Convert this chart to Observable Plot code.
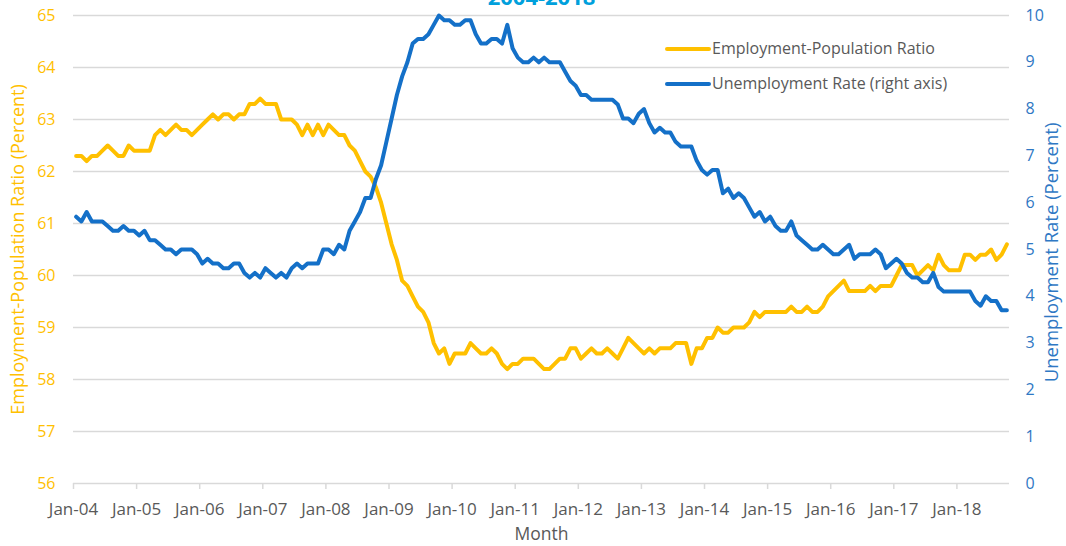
<!DOCTYPE html>
<html>
<head>
<meta charset="utf-8">
<script src="https://cdn.jsdelivr.net/npm/d3@7"></script>
<script src="https://cdn.jsdelivr.net/npm/@observablehq/plot@0.6"></script>
<style>
  html, body { margin: 0; padding: 0; background: #fff; }
  #wrap { position: relative; width: 1066px; height: 546px; overflow: hidden; font-family: "Open Sans", sans-serif; }
  #wrap svg { position: absolute; left: 0; top: 0; }
  .leg-line { position: absolute; height: 4px; border-radius: 2px; }
  .leg-text { position: absolute; font-size: 16px; line-height: 20px; color: #595959; white-space: nowrap; }
</style>
</head>
<body>
<div id="wrap"></div>
<script>
// ---- Data (monthly, Jan 2004 – Oct 2018) ----
const epop = [
  62.3,62.3,62.2,62.3,62.3,62.4,62.5,62.4,62.3,62.3,62.5,62.4, // 2004
  62.4,62.4,62.4,62.7,62.8,62.7,62.8,62.9,62.8,62.8,62.7,62.8, // 2005
  62.9,63.0,63.1,63.0,63.1,63.1,63.0,63.1,63.1,63.3,63.3,63.4, // 2006
  63.3,63.3,63.3,63.0,63.0,63.0,62.9,62.7,62.9,62.7,62.9,62.7, // 2007
  62.9,62.8,62.7,62.7,62.5,62.4,62.2,62.0,61.9,61.7,61.4,61.0, // 2008
  60.6,60.3,59.9,59.8,59.6,59.4,59.3,59.1,58.7,58.5,58.6,58.3, // 2009
  58.5,58.5,58.5,58.7,58.6,58.5,58.5,58.6,58.5,58.3,58.2,58.3, // 2010
  58.3,58.4,58.4,58.4,58.3,58.2,58.2,58.3,58.4,58.4,58.6,58.6, // 2011
  58.4,58.5,58.6,58.5,58.5,58.6,58.5,58.4,58.6,58.8,58.7,58.6, // 2012
  58.5,58.6,58.5,58.6,58.6,58.6,58.7,58.7,58.7,58.3,58.6,58.6, // 2013
  58.8,58.8,59.0,58.9,58.9,59.0,59.0,59.0,59.1,59.3,59.2,59.3, // 2014
  59.3,59.3,59.3,59.3,59.4,59.3,59.3,59.4,59.3,59.3,59.4,59.6, // 2015
  59.7,59.8,59.9,59.7,59.7,59.7,59.7,59.8,59.7,59.8,59.8,59.8, // 2016
  60.0,60.2,60.2,60.2,60.0,60.1,60.2,60.1,60.4,60.2,60.1,60.1, // 2017
  60.1,60.4,60.4,60.3,60.4,60.4,60.5,60.3,60.4,60.6            // 2018
];
const unrate = [
  5.7,5.6,5.8,5.6,5.6,5.6,5.5,5.4,5.4,5.5,5.4,5.4,  // 2004
  5.3,5.4,5.2,5.2,5.1,5.0,5.0,4.9,5.0,5.0,5.0,4.9,  // 2005
  4.7,4.8,4.7,4.7,4.6,4.6,4.7,4.7,4.5,4.4,4.5,4.4,  // 2006
  4.6,4.5,4.4,4.5,4.4,4.6,4.7,4.6,4.7,4.7,4.7,5.0,  // 2007
  5.0,4.9,5.1,5.0,5.4,5.6,5.8,6.1,6.1,6.5,6.8,7.3,  // 2008
  7.8,8.3,8.7,9.0,9.4,9.5,9.5,9.6,9.8,10.0,9.9,9.9, // 2009
  9.8,9.8,9.9,9.9,9.6,9.4,9.4,9.5,9.5,9.4,9.8,9.3,  // 2010
  9.1,9.0,9.0,9.1,9.0,9.1,9.0,9.0,9.0,8.8,8.6,8.5,  // 2011
  8.3,8.3,8.2,8.2,8.2,8.2,8.2,8.1,7.8,7.8,7.7,7.9,  // 2012
  8.0,7.7,7.5,7.6,7.5,7.5,7.3,7.2,7.2,7.2,6.9,6.7,  // 2013
  6.6,6.7,6.7,6.2,6.3,6.1,6.2,6.1,5.9,5.7,5.8,5.6,  // 2014
  5.7,5.5,5.4,5.4,5.6,5.3,5.2,5.1,5.0,5.0,5.1,5.0,  // 2015
  4.9,4.9,5.0,5.1,4.8,4.9,4.9,4.9,5.0,4.9,4.6,4.7,  // 2016
  4.8,4.7,4.5,4.4,4.4,4.3,4.3,4.5,4.2,4.1,4.1,4.1,  // 2017
  4.1,4.1,4.1,3.9,3.8,4.0,3.9,3.9,3.7,3.7           // 2018
];
const xTickLabels = ["Jan-04","Jan-05","Jan-06","Jan-07","Jan-08","Jan-09","Jan-10",
  "Jan-11","Jan-12","Jan-13","Jan-14","Jan-15","Jan-16","Jan-17","Jan-18"];
const leftTicks = [56,57,58,59,60,61,62,63,64,65];
const rightTicks = [0,1,2,3,4,5,6,7,8,9,10];
const seriesNames = ["Employment-Population Ratio", "Unemployment Rate (right axis)"];
const titleText = "2004-2018";
const xTitle = "Month";
const leftTitle = "Employment-Population Ratio (Percent)";
const rightTitle = "Unemployment Rate (Percent)";

// ---- Styling ----
const YELLOW = "#ffc000";
const BLUE = "#1470c8";
const BLUE_TEXT = "#2f78c4";
const GRAY = "#595959";
const GRID = "#d9d9d9";

const nMonths = epop.length;
const lMin = leftTicks[0], lMax = leftTicks[leftTicks.length - 1];
const rMin = rightTicks[0], rMax = rightTicks[rightTicks.length - 1];
const toLeft = r => lMin + (r - rMin) * (lMax - lMin) / (rMax - rMin);
const toRight = l => rMin + (l - lMin) * (rMax - rMin) / (lMax - lMin);

const rows = epop.map((v, i) => ({ m: i + 0.5, epop: v, ur: unrate[i], urL: toLeft(unrate[i]) }));
const xTicks = xTickLabels.map((_, k) => k * 12);

const chart = Plot.plot({
  width: 1066,
  height: 546,
  marginLeft: 73,
  marginRight: 57,
  marginTop: 15,
  marginBottom: 63,
  style: { fontFamily: "'Open Sans', sans-serif", background: "transparent", overflow: "visible" },
  x: { domain: [0, nMonths] },
  y: { domain: [lMin, lMax] },
  marks: [
    Plot.gridY(leftTicks, { stroke: GRID, strokeOpacity: 1, strokeWidth: 1.5 }),
    Plot.axisX(xTicks, {
      tickFormat: d => xTickLabels[Math.round(d / 12)],
      tickSize: 6, tickPadding: 13, stroke: GRID, strokeWidth: 1.5,
      fill: GRAY, fontSize: 17, label: null
    }),
    Plot.axisY(leftTicks, {
      anchor: "left", tickSize: 0, tickPadding: 18, fill: YELLOW, fontSize: 16,
      tickFormat: d => String(d), label: null
    }),
    Plot.axisY(rightTicks.map(toLeft), {
      anchor: "right", tickSize: 0, tickPadding: 16, fill: BLUE_TEXT, fontSize: 16,
      tickFormat: d => String(Math.round(toRight(d))), label: null
    }),
    Plot.lineY(rows, { x: "m", y: "epop", stroke: YELLOW, strokeWidth: 4, strokeLinejoin: "round", strokeLinecap: "round" }),
    Plot.lineY(rows, { x: "m", y: "urL", stroke: BLUE, strokeWidth: 4, strokeLinejoin: "round", strokeLinecap: "round" }),
    // titles
    Plot.text([titleText], {
      text: d => d, frameAnchor: "top", dy: -11, lineAnchor: "bottom",
      fill: "#00a0dc", fontSize: 22, fontWeight: "bold"
    }),
    Plot.text([xTitle], {
      text: d => d, frameAnchor: "bottom", dy: 51, lineAnchor: "middle",
      fill: GRAY, fontSize: 17.5
    }),
    Plot.text([leftTitle], {
      text: d => d, frameAnchor: "left", dx: -55, rotate: -90,
      textAnchor: "middle", lineAnchor: "middle",
      fill: YELLOW, fontSize: 18
    }),
    Plot.text([rightTitle], {
      text: d => d, frameAnchor: "right", dx: 43, dy: 3, rotate: -90,
      textAnchor: "middle", lineAnchor: "middle",
      fill: BLUE_TEXT, fontSize: 18.5
    })
  ]
});

const wrap = document.getElementById("wrap");
wrap.appendChild(chart);

// ---- Legend ----
const legColors = [YELLOW, BLUE];
const legY = [49, 84];
seriesNames.forEach((name, i) => {
  const line = document.createElement("div");
  line.className = "leg-line";
  line.style.left = "665px";
  line.style.width = "46px";
  line.style.top = (legY[i] - 2) + "px";
  line.style.background = legColors[i];
  wrap.appendChild(line);
  const t = document.createElement("div");
  t.className = "leg-text";
  t.style.left = "712px";
  t.style.top = (legY[i] - 11) + "px";
  t.textContent = name;
  wrap.appendChild(t);
});
</script>
</body>
</html>
